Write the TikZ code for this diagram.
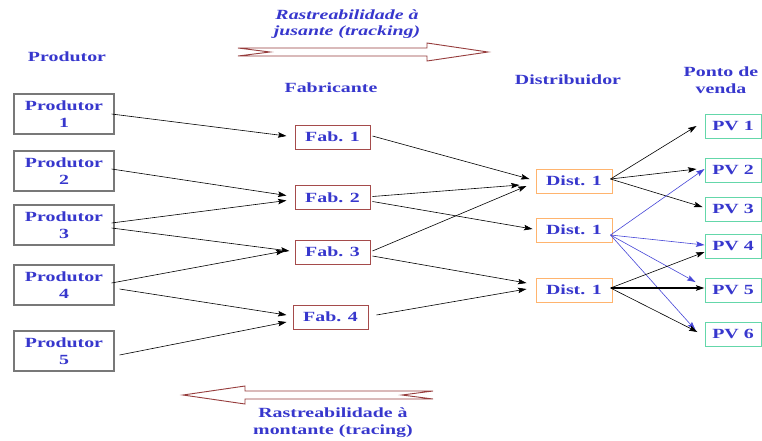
\documentclass[tikz,border=0pt]{standalone}
\usepackage{fontspec}
\setmainfont{Liberation Serif}[FakeStretch=1.42]
\usetikzlibrary{arrows.meta}
\definecolor{txtblue}{RGB}{55,55,205}
\definecolor{prodgray}{RGB}{120,120,120}
\definecolor{fabred}{RGB}{165,75,75}
\definecolor{distorange}{RGB}{255,180,110}
\definecolor{pvgreen}{RGB}{100,215,170}
\definecolor{edgeblue}{RGB}{70,70,215}
\definecolor{bigarrow}{RGB}{150,60,60}
\begin{document}
\begin{tikzpicture}[x=1pt,y=-1pt,
  lbl/.style={font=\fontsize{14}{17}\selectfont\bfseries, text=txtblue, align=center, inner sep=0pt},
  prodbox/.style={lbl, draw=prodgray, line width=1.1pt, fill=white, minimum width=100pt, minimum height=40pt},
  fabbox/.style={lbl, draw=fabred, line width=1pt, fill=white, minimum width=75pt, minimum height=24pt},
  distbox/.style={lbl, draw=distorange, line width=1pt, fill=white, minimum width=76pt, minimum height=24pt},
  pvbox/.style={lbl, draw=pvgreen, line width=1pt, fill=white, minimum width=56pt, minimum height=24pt},
  edge/.style={draw=black, line width=0.6pt, -{Stealth[length=8.5pt,width=5.5pt,inset=1.5pt]}},
  bedge/.style={edge, draw=edgeblue, -{Stealth[length=8.5pt,width=5.5pt,inset=1.5pt,fill=edgeblue]}},
  hollow/.style={draw=bigarrow, line width=0.9pt, fill=white, line join=miter}
]
\useasboundingbox (0,0) rectangle (762,440);

% headers
\node[lbl] (hprod) at (67,57) {Produtor};
\node[lbl] (hfab) at (331,88) {Fabricante};
\node[lbl] (hdist) at (568,80) {Distribuidor};
\node[lbl] (hpv) at (721,80) {Ponto de\\venda};
\node[lbl, font=\fontsize{14}{16}\selectfont\bfseries\itshape] (htrack) at (347,24) {Rastreabilidade à\\jusante (tracking)};
\node[lbl, font=\fontsize{14}{17}\selectfont\bfseries] (htrace) at (333,423) {Rastreabilidade à\\montante (tracing)};

% big hollow arrows
\draw[hollow] (238,48) -- (427,48) -- (427,43) -- (488,52) -- (427,61) -- (427,56) -- (238,56) -- (270,52) -- cycle;
\draw[hollow] (433,391) -- (245,391) -- (245,386) -- (183,395) -- (245,404) -- (245,399) -- (433,399) -- (402,395) -- cycle;

% producers
\node[prodbox] (p1) at (64,114) {Produtor\\1};
\node[prodbox] (p2) at (64,171) {Produtor\\2};
\node[prodbox] (p3) at (64,225) {Produtor\\3};
\node[prodbox] (p4) at (64,285) {Produtor\\4};
\node[prodbox] (p5) at (64,351) {Produtor\\5};

% manufacturers
\node[fabbox] (f1) at (332.5,137) {Fab. 1};
\node[fabbox] (f2) at (332.5,197.5) {Fab. 2};
\node[fabbox] (f3) at (332.5,252) {Fab. 3};
\node[fabbox] (f4) at (330.5,317) {Fab. 4};

% distributors
\node[distbox] (d1) at (574,181) {Dist. 1};
\node[distbox] (d2) at (574,230) {Dist. 1};
\node[distbox] (d3) at (574,290) {Dist. 1};

% points of sale
\node[pvbox] (v1) at (733,126) {PV 1};
\node[pvbox] (v2) at (733,170) {PV 2};
\node[pvbox] (v3) at (733,209) {PV 3};
\node[pvbox] (v4) at (733,246) {PV 4};
\node[pvbox] (v5) at (733,290) {PV 5};
\node[pvbox] (v6) at (733,334) {PV 6};

% producer -> manufacturer
\draw[edge] ([shift={(-3,0)}]p1.east) -- ([shift={(-8,-1)}]f1.west);
\draw[edge] ([shift={(-3,-2)}]p2.east) -- ([shift={(-8,-2)}]f2.west);
\draw[edge] ([shift={(-3,-2)}]p3.east) -- ([shift={(-8,3)}]f2.west);
\draw[edge] ([shift={(-3,3)}]p3.east) -- ([shift={(-5,-1)}]f3.west);
\draw[edge] ([shift={(-3,-2)}]p4.east) -- ([shift={(-10,-1)}]f3.west);
\draw[edge] ([shift={(5,4)}]p4.east) -- ([shift={(-6,-2)}]f4.west);
\draw[edge] ([shift={(5,4)}]p5.east) -- ([shift={(-6,5)}]f4.west);

% manufacturer -> distributor
\draw[edge] ([shift={(2,-1)}]f1.east) -- ([shift={(-6,-2)}]d1.west);
\draw[edge] ([shift={(2,-1)}]f2.east) -- ([shift={(-16,4)}]d1.west);
\draw[edge] ([shift={(2,4)}]f2.east) -- ([shift={(-3,-1)}]d2.west);
\draw[edge] ([shift={(2,-1)}]f3.east) -- ([shift={(-9,5)}]d1.west);
\draw[edge] ([shift={(2,4)}]f3.east) -- ([shift={(-9,-7)}]d3.west);
\draw[edge] ([shift={(8,-2)}]f4.east) -- ([shift={(-9,-1)}]d3.west);

% distributor -> points of sale
\draw[edge] ([shift={(-2,-2)}]d1.east) -- ([shift={(-8,0)}]v1.west);
\draw[edge] ([shift={(-2,-2)}]d1.east) -- ([shift={(-8,-1)}]v2.west);
\draw[edge] ([shift={(-2,-2)}]d1.east) -- ([shift={(-2,-2)}]v3.west);
\draw[bedge] ([shift={(-2,5)}]d2.east) -- ([shift={(0,-1)}]v2.west);
\draw[bedge] ([shift={(-2,5)}]d2.east) -- ([shift={(0,-1)}]v4.west);
\draw[bedge] ([shift={(-2,5)}]d2.east) -- ([shift={(-9,-8)}]v5.west);
\draw[bedge] ([shift={(-2,5)}]d2.east) -- ([shift={(-9,-4)}]v6.west);
\draw[edge] ([shift={(-2,-2)}]d3.east) -- ([shift={(0,6)}]v4.west);
\draw[edge, line width=1.1pt] ([shift={(-2,-2)}]d3.east) -- ([shift={(0,-2)}]v5.west);
\draw[edge] ([shift={(-2,-2)}]d3.east) -- ([shift={(-7,-2)}]v6.west);
\end{tikzpicture}
\end{document}
